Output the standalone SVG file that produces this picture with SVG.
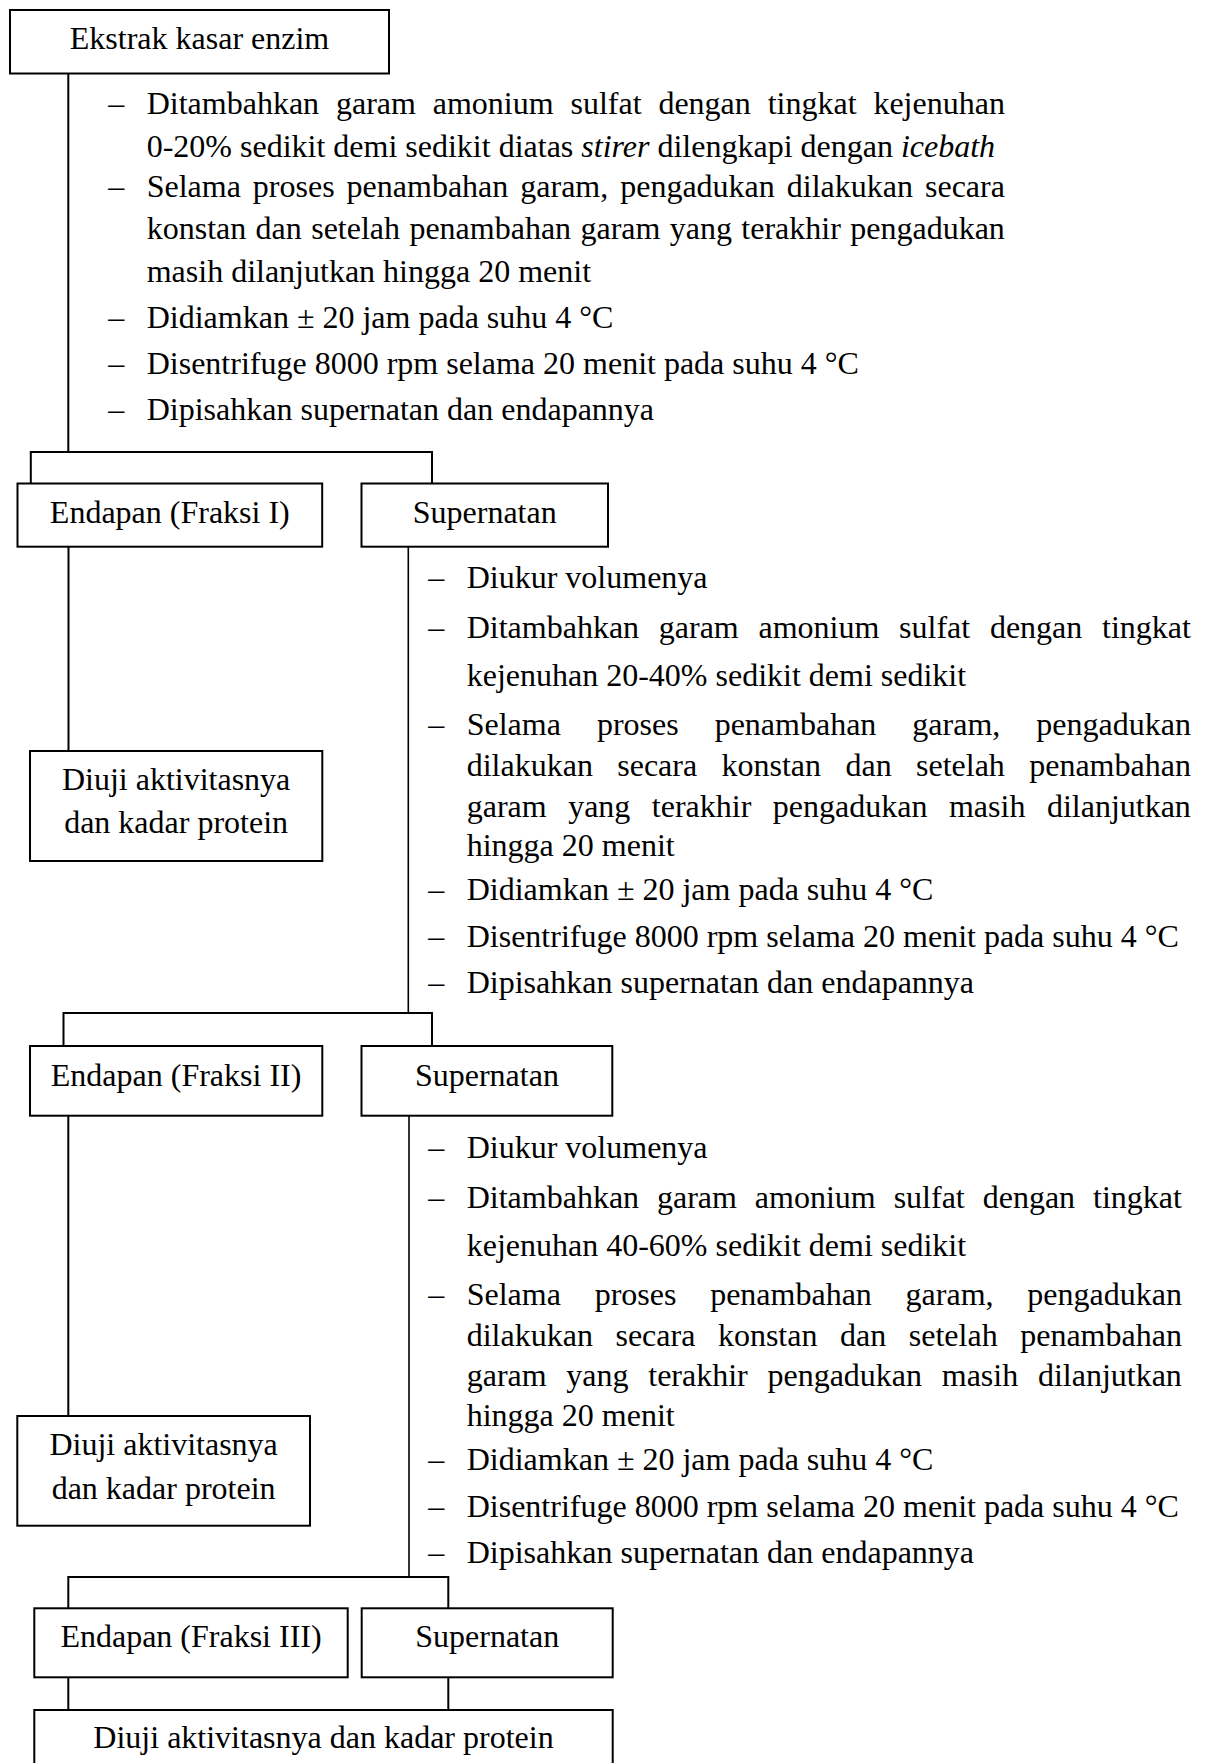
<svg xmlns="http://www.w3.org/2000/svg" width="1210" height="1763" viewBox="0 0 1210 1763">
<style>
text{font-family:"Liberation Serif","Times New Roman",serif;font-size:32px;fill:#000}
.c{text-anchor:middle}
.box{fill:#fff;stroke:#000;stroke-width:2}
.ln{fill:none;stroke:#000;stroke-width:2}
.thin{fill:none;stroke:#000;stroke-width:1.6}
</style>
<rect x="0" y="0" width="1210" height="1763" fill="#fff"/>
<g id="connectors">
<path class="ln" d="M68.3 73.5 V452"/>
<path class="ln" d="M30.8 483.5 V452 H432 V483.5"/>
<path class="ln" d="M68.5 546.7 V751"/>
<path class="thin" d="M408.3 546.7 V1013"/>
<path class="ln" d="M63.5 1046 V1013 H432 V1046"/>
<path class="ln" d="M68.3 1115.7 V1416"/>
<path class="thin" d="M409 1115.7 V1577"/>
<path class="ln" d="M68.3 1608.3 V1577 H448.3 V1608.3"/>
<path class="ln" d="M68.3 1677.3 V1710"/>
<path class="ln" d="M448.3 1677.3 V1710"/>
</g>
<g id="ekstrak">
<rect class="box" x="10" y="10" width="379" height="63.5"/>
<text class="c" x="199.5" y="49.3">Ekstrak kasar enzim</text>
</g>
<g id="steps1">
<text x="108.3" y="114.3">–</text>
<text x="146.7" y="114.3" word-spacing="8.85">Ditambahkan garam amonium sulfat dengan tingkat kejenuhan</text>
<text x="146.7" y="156.7">0-20% sedikit demi sedikit diatas <tspan font-style="italic">stirer</tspan> dilengkapi dengan <tspan font-style="italic">icebath</tspan></text>
<text x="108.3" y="197.3">–</text>
<text x="146.7" y="197.3" word-spacing="3.98">Selama proses penambahan garam, pengadukan dilakukan secara</text>
<text x="146.7" y="239" word-spacing="1.37">konstan dan setelah penambahan garam yang terakhir pengadukan</text>
<text x="146.7" y="281.7">masih dilanjutkan hingga 20 menit</text>
<text x="108.3" y="328.3">–</text>
<text x="146.7" y="328.3">Didiamkan ± 20 jam pada suhu 4 °C</text>
<text x="108.3" y="374">–</text>
<text x="146.7" y="374">Disentrifuge 8000 rpm selama 20 menit pada suhu 4 °C</text>
<text x="108.3" y="420">–</text>
<text x="146.7" y="420">Dipisahkan supernatan dan endapannya</text>
</g>
<g id="endapan1">
<rect class="box" x="17.5" y="483.5" width="304.7" height="63.2"/>
<text class="c" x="169.8" y="522.7">Endapan (Fraksi I)</text>
</g>
<g id="supernatan1">
<rect class="box" x="361.5" y="483.5" width="246.5" height="63.2"/>
<text class="c" x="484.7" y="522.7">Supernatan</text>
</g>
<g id="diuji1">
<rect class="box" x="30" y="751" width="292.3" height="110"/>
<text class="c" x="176.1" y="790">Diuji aktivitasnya</text>
<text class="c" x="176.1" y="833.3">dan kadar protein</text>
</g>
<g id="steps2">
<text x="428.3" y="587.7">–</text>
<text x="466.7" y="587.7">Diukur volumenya</text>
<text x="428.3" y="637.7">–</text>
<text x="466.7" y="637.7" word-spacing="11.72">Ditambahkan garam amonium sulfat dengan tingkat</text>
<text x="466.7" y="685.7">kejenuhan 20-40% sedikit demi sedikit</text>
<text x="428.3" y="735">–</text>
<text x="466.7" y="735" word-spacing="28">Selama proses penambahan garam, pengadukan</text>
<text x="466.7" y="776" word-spacing="16.36">dilakukan secara konstan dan setelah penambahan</text>
<text x="466.7" y="816.7" word-spacing="13.5">garam yang terakhir pengadukan masih dilanjutkan</text>
<text x="466.7" y="855.7">hingga 20 menit</text>
<text x="428.3" y="900">–</text>
<text x="466.7" y="900">Didiamkan ± 20 jam pada suhu 4 °C</text>
<text x="428.3" y="946.7">–</text>
<text x="466.7" y="946.7">Disentrifuge 8000 rpm selama 20 menit pada suhu 4 °C</text>
<text x="428.3" y="992.7">–</text>
<text x="466.7" y="992.7">Dipisahkan supernatan dan endapannya</text>
</g>
<g id="endapan2">
<rect class="box" x="30" y="1046" width="292.3" height="69.7"/>
<text class="c" x="176.1" y="1086">Endapan (Fraksi II)</text>
</g>
<g id="supernatan2">
<rect class="box" x="361.5" y="1046" width="250.8" height="69.7"/>
<text class="c" x="486.9" y="1086">Supernatan</text>
</g>
<g id="diuji2">
<rect class="box" x="17.3" y="1416" width="292.7" height="109.7"/>
<text class="c" x="163.6" y="1455">Diuji aktivitasnya</text>
<text class="c" x="163.6" y="1499">dan kadar protein</text>
</g>
<g id="steps3">
<text x="428.3" y="1157.7">–</text>
<text x="466.7" y="1157.7">Diukur volumenya</text>
<text x="428.3" y="1207.7">–</text>
<text x="466.7" y="1207.7" word-spacing="9.92">Ditambahkan garam amonium sulfat dengan tingkat</text>
<text x="466.7" y="1255.7">kejenuhan 40-60% sedikit demi sedikit</text>
<text x="428.3" y="1304.5">–</text>
<text x="466.7" y="1304.5" word-spacing="25.75">Selama proses penambahan garam, pengadukan</text>
<text x="466.7" y="1345.5" word-spacing="14.56">dilakukan secara konstan dan setelah penambahan</text>
<text x="466.7" y="1386.3" word-spacing="11.7">garam yang terakhir pengadukan masih dilanjutkan</text>
<text x="466.7" y="1425.7">hingga 20 menit</text>
<text x="428.3" y="1470">–</text>
<text x="466.7" y="1470">Didiamkan ± 20 jam pada suhu 4 °C</text>
<text x="428.3" y="1516.7">–</text>
<text x="466.7" y="1516.7">Disentrifuge 8000 rpm selama 20 menit pada suhu 4 °C</text>
<text x="428.3" y="1562.7">–</text>
<text x="466.7" y="1562.7">Dipisahkan supernatan dan endapannya</text>
</g>
<g id="endapan3">
<rect class="box" x="34.3" y="1608.3" width="313.4" height="69"/>
<text class="c" x="191" y="1646.7">Endapan (Fraksi III)</text>
</g>
<g id="supernatan3">
<rect class="box" x="361.7" y="1608.3" width="251" height="69"/>
<text class="c" x="487.2" y="1646.7">Supernatan</text>
</g>
<g id="diuji3">
<rect class="box" x="34.3" y="1710" width="578.4" height="70"/>
<text class="c" x="323.5" y="1748.3">Diuji aktivitasnya dan kadar protein</text>
</g>
</svg>
